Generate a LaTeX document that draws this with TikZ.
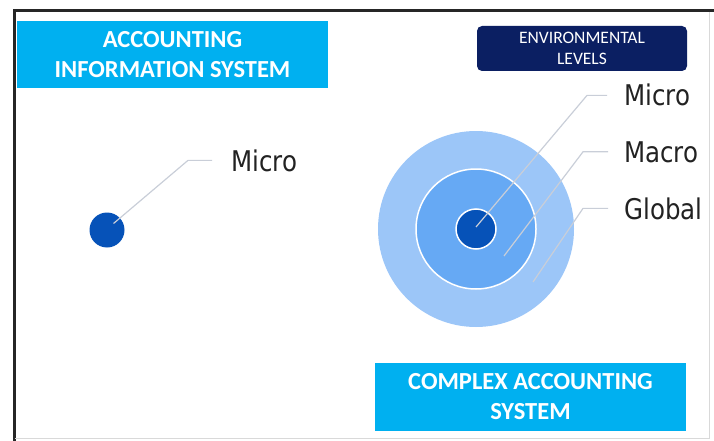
\documentclass[tikz,border=0pt]{standalone}
\usepackage{fontspec}
\setmainfont{Carlito}
\newfontfamily\lblfont{DejaVu Sans}[FakeStretch=0.86]
\usetikzlibrary{calc}

\definecolor{boxcyan}{HTML}{00B0F0}
\definecolor{navy}{HTML}{0B1F62}
\definecolor{ringout}{HTML}{9CC6F8}
\definecolor{ringmid}{HTML}{66A9F4}
\definecolor{core}{HTML}{0652B8}
\definecolor{leadgray}{HTML}{C9CED8}
\definecolor{lbltext}{HTML}{222222}

\begin{document}
\begin{tikzpicture}[x=1pt,y=-1pt,
		titlebox/.style={fill=boxcyan,text=white,align=center,inner sep=0pt,
			minimum width=311pt,font=\bfseries\fontsize{24.5}{30}\selectfont},
		levelbox/.style={fill=navy,text=white,align=center,inner sep=0pt,rounded corners=5pt,
			minimum width=210pt,minimum height=45pt,font=\fontsize{17.5}{21.5}\selectfont},
		lbl/.style={anchor=base west,inner sep=0pt,text=lbltext,
			font=\lblfont\fontsize{28.5}{32}\selectfont},
		leader/.style={draw=leadgray,line width=1.2pt}]
		\useasboundingbox (0,0) rectangle (714,441);
		
		% frame
		\draw[black!85,line width=3pt] (14,441) -- (14,11) -- (714,11);
		\draw[black!15,line width=0.8pt] (709,12) -- (709,438) -- (15,438);
		
		% headings
		\node[titlebox,minimum height=67pt] (ais) at (172.5,54.5) {ACCOUNTING\\INFORMATION SYSTEM};
		\node[levelbox] (env) at (582,48.5) {ENVIRONMENTAL\\LEVELS};
		\node[titlebox,minimum height=68pt] (cas) at (530.5,397) {COMPLEX ACCOUNTING\\SYSTEM};
		
		% single level
		\node[circle,fill=core,inner sep=0pt,minimum size=35pt] (dot) at (107,230) {};
		\node[lbl] (m0) at (231,171) {Micro};
		\draw[leader] ($(dot.center)!0.52!(dot.north east)$) -- ([xshift=-43pt]m0.west) -- ([xshift=-19pt]m0.west);
		
		% nested levels
		\node[circle,fill=ringout,inner sep=0pt,minimum size=196pt] (glob) at (476,229) {};
		\node[circle,fill=ringmid,draw=white,line width=1.5pt,inner sep=0pt,minimum size=120pt] (mac) at (glob.center) {};
		\node[circle,fill=core,draw=white,line width=1.5pt,inner sep=0pt,minimum size=40pt] (mic) at (glob.center) {};
		
		\node[lbl] (m1) at (624,106) {Micro};
		\node[lbl] (m2) at (624,162) {Macro};
		\node[lbl] (m3) at (624,219) {Global};
		
		\coordinate (s1) at (476,227);
		\coordinate (s2) at (504,256);
		\coordinate (s3) at (533,282);
		\draw[leader] (s1) -- ([xshift=-37pt]m1.west) -- ([xshift=-17pt]m1.west);
		\draw[leader] (s2) -- ([xshift=-41pt]m2.west) -- ([xshift=-16pt]m2.west);
		\draw[leader] (s3) -- ([xshift=-41pt]m3.west) -- ([xshift=-16pt]m3.west);
\end{tikzpicture}
\end{document}
